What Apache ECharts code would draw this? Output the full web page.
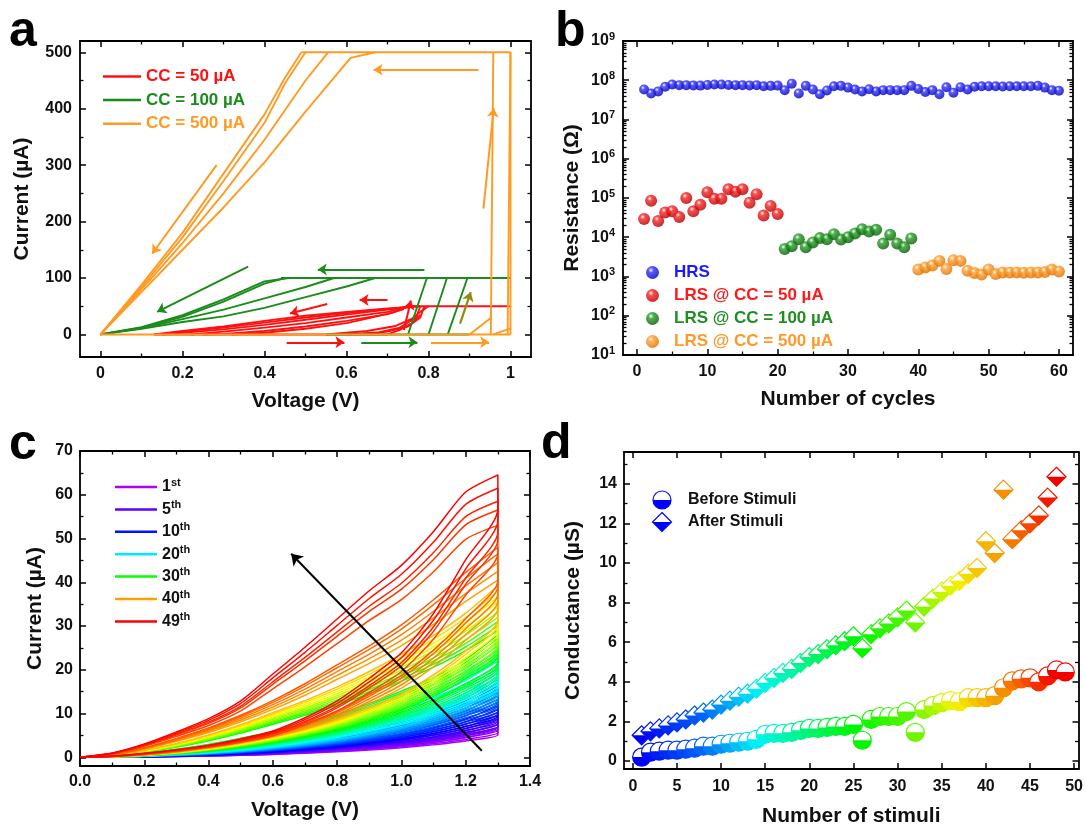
<!DOCTYPE html>
<html>
<head>
<meta charset="utf-8">
<script src="https://cdn.jsdelivr.net/npm/echarts@6/dist/echarts.min.js"></script>
<style>
  html, body { margin: 0; background: #fff; }
  #chart { width: 1086px; height: 828px; }
</style>
</head>
<body>
<div id="chart"></div>
<script>
// ---------- panel a : I-V sweeps, [voltage V, current uA] ----------
const cc50Curves = [
  [[0.13, 0], [0.7, 0]],
  [[0.76, 50], [1, 50]],
  [[0.78, 50], [0.7, 46], [0.6, 40], [0.5, 33], [0.4, 24], [0.3, 14], [0.2, 6], [0.13, 0]],
  [[0.77, 50], [0.7, 45], [0.6, 38], [0.5, 30], [0.4, 21], [0.3, 12], [0.2, 5], [0.14, 0]],
  [[0.76, 50], [0.7, 44], [0.6, 35], [0.5, 26], [0.4, 17], [0.3, 9], [0.2, 3], [0.15, 0]],
  [[0.75, 48], [0.7, 40], [0.6, 30], [0.5, 20], [0.4, 12], [0.3, 5], [0.22, 0]],
  [[0.74, 45], [0.7, 36], [0.6, 24], [0.5, 14], [0.4, 6], [0.3, 1], [0.25, 0]],
  [[0.72, 40], [0.65, 28], [0.6, 20], [0.5, 10], [0.4, 3], [0.32, 0]],
  [[0.55, 0], [0.65, 6], [0.72, 15], [0.76, 28], [0.78, 40], [0.8, 50]],
  [[0.6, 0], [0.68, 4], [0.73, 12], [0.77, 30], [0.78, 50]],
  [[0.65, 0], [0.7, 5], [0.75, 14], [0.78, 30], [0.79, 50]],
  [[0.7, 0], [0.73, 8], [0.76, 20], [0.78, 35]]
];
const cc100Curves = [
  [[0.55, 0], [0.9, 0]],
  [[0.75, 0], [0.796, 100]],
  [[0.8, 0], [0.845, 100]],
  [[0.847, 0], [0.895, 100]],
  [[0.44, 100], [1, 100]],
  [[0.46, 100], [0.4, 94], [0.3, 62], [0.2, 34], [0.1, 13], [0, 0]],
  [[0.45, 100], [0.4, 90], [0.3, 58], [0.2, 31], [0.1, 12], [0, 0]],
  [[0.57, 100], [0.5, 84], [0.4, 64], [0.3, 44], [0.2, 27], [0.1, 11], [0, 0]],
  [[0.67, 100], [0.6, 85], [0.5, 66], [0.4, 47], [0.3, 32], [0.2, 22], [0.1, 10], [0, 0]]
];
const cc500Curves = [
  [[0, 0], [1, 0]],
  [[0.952, 0], [0.958, 500]],
  [[0.993, 0], [1, 500]],
  [[1, 0], [1, 500]],
  [[0.49, 500], [1, 500]],
  [[0.9, 0], [0.945, 25], [0.952, 30]],
  [[0.958, 0], [0.99, 8], [1, 10]],
  [[0.49, 500], [0.45, 455], [0.4, 390], [0.3, 285], [0.2, 180], [0.1, 88], [0, 0]],
  [[0.5, 500], [0.45, 445], [0.4, 375], [0.3, 272], [0.2, 172], [0.1, 84], [0, 0]],
  [[0.555, 500], [0.5, 450], [0.4, 345], [0.3, 250], [0.2, 162], [0.1, 80], [0, 0]],
  [[0.67, 500], [0.61, 490], [0.5, 395], [0.4, 305], [0.3, 225], [0.2, 150], [0.1, 75], [0, 0]]
];
// arrows: [x1, y1, x2, y2]
const arrowsRed = [[0.454, -14, 0.595, -14], [0.553, 54, 0.462, 37], [0.70, 61, 0.632, 61], [0.74, 8, 0.757, 60]];
const arrowsGreen = [[0.636, -14, 0.773, -14], [0.79, 115, 0.53, 115], [0.36, 120, 0.138, 40]];
const arrowsOrange = [[0.806, -14, 0.948, -14], [0.922, 469, 0.666, 469], [0.283, 300, 0.126, 143], [0.934, 223, 0.959, 401]];
const arrowsOlive = [[0.877, 19, 0.903, 75]];

// ---------- panel b : resistance vs cycle ----------
const hrsCycles = Array.from({ length: 60 }, (_, i) => i + 1);
const hrsOhm = [5.8e7, 4.6e7, 5.2e7, 6.8e7, 7.8e7, 7.5e7, 7.5e7, 7.4e7, 7.3e7, 7.6e7,
  7.8e7, 7.8e7, 7.6e7, 7.5e7, 7.5e7, 7.4e7, 7.5e7, 7.0e7, 7.2e7, 7.3e7,
  5.6e7, 8.2e7, 4.6e7, 7.2e7, 5.8e7, 4.4e7, 5.5e7, 7.0e7, 7.2e7, 6.5e7,
  5.8e7, 5.2e7, 5.9e7, 5.2e7, 5.6e7, 5.6e7, 5.6e7, 5.6e7, 7.2e7, 6.0e7,
  5.0e7, 5.6e7, 4.4e7, 6.6e7, 4.8e7, 6.6e7, 5.8e7, 6.8e7, 7.0e7, 7.0e7,
  7.0e7, 6.9e7, 7.0e7, 7.0e7, 7.0e7, 7.0e7, 7.2e7, 6.5e7, 5.6e7, 5.4e7];
const lrs50Cycles = hrsCycles.slice(0, 20);
const lrs50Ohm = [2.9e4, 8.5e4, 2.6e4, 4.3e4, 4.6e4, 3.3e4, 1.0e5, 4.6e4, 6.7e4, 1.4e5,
  9.6e4, 9.6e4, 1.66e5, 1.45e5, 1.66e5, 7.6e4, 1.25e5, 3.6e4, 6.3e4, 3.9e4];
const lrs100Cycles = hrsCycles.slice(20, 39);
const lrs100Ohm = [5.0e3, 5.9e3, 8.9e3, 5.6e3, 7.4e3, 9.5e3, 8.9e3, 1.2e4, 8.7e3, 1.0e4,
  1.25e4, 1.6e4, 1.4e4, 1.55e4, 6.9e3, 1.15e4, 6.9e3, 5.6e3, 9.3e3];
const lrs500Cycles = hrsCycles.slice(39, 60);
const lrs500Ohm = [1.5e3, 1.7e3, 1.9e3, 2.5e3, 1.55e3, 2.6e3, 2.5e3, 1.4e3, 1.23e3, 1.12e3,
  1.5e3, 1.15e3, 1.27e3, 1.27e3, 1.27e3, 1.25e3, 1.27e3, 1.27e3, 1.3e3, 1.5e3, 1.35e3];

// ---------- panel c : repeated I-V loops ----------
const loopVoltage = [0, 0.1, 0.2, 0.3, 0.4, 0.5, 0.6, 0.7, 0.8, 0.9, 1.0, 1.1, 1.2, 1.3];
const legendCycles = [1, 5, 10, 20, 30, 40, 49];
const legendNames = ['1st', '5th', '10th', '20th', '30th', '40th', '49th'];
// return sweep, fraction of the loop peak, one row per legend cycle
const upperShapes = [
  [0, 0.004, 0.015, 0.035, 0.06, 0.095, 0.14, 0.2, 0.27, 0.35, 0.44, 0.56, 0.73, 1],
  [0, 0.005, 0.018, 0.04, 0.068, 0.105, 0.15, 0.21, 0.28, 0.36, 0.45, 0.57, 0.74, 1],
  [0, 0.007, 0.025, 0.05, 0.085, 0.13, 0.18, 0.24, 0.31, 0.39, 0.49, 0.6, 0.76, 1],
  [0, 0.01, 0.033, 0.065, 0.105, 0.155, 0.21, 0.275, 0.35, 0.44, 0.54, 0.65, 0.8, 1],
  [0, 0.012, 0.04, 0.08, 0.13, 0.19, 0.26, 0.33, 0.41, 0.5, 0.6, 0.71, 0.84, 1],
  [0, 0.014, 0.045, 0.09, 0.14, 0.2, 0.27, 0.35, 0.44, 0.53, 0.63, 0.75, 0.88, 1],
  [0, 0.015, 0.047, 0.09, 0.137, 0.2, 0.295, 0.39, 0.49, 0.59, 0.68, 0.8, 0.94, 1]
];
// forward sweep, fraction of the loop peak
const lowerShapes = [
  [0, 0.003, 0.01, 0.025, 0.045, 0.07, 0.105, 0.15, 0.2, 0.27, 0.35, 0.46, 0.6, 0.82],
  [0, 0.003, 0.011, 0.026, 0.047, 0.073, 0.108, 0.153, 0.205, 0.275, 0.355, 0.46, 0.6, 0.8],
  [0, 0.004, 0.013, 0.03, 0.05, 0.078, 0.115, 0.16, 0.215, 0.285, 0.365, 0.47, 0.61, 0.8],
  [0, 0.004, 0.014, 0.031, 0.053, 0.082, 0.12, 0.165, 0.22, 0.29, 0.37, 0.47, 0.6, 0.78],
  [0, 0.004, 0.014, 0.031, 0.054, 0.083, 0.12, 0.165, 0.22, 0.29, 0.37, 0.48, 0.62, 0.8],
  [0, 0.004, 0.014, 0.03, 0.052, 0.08, 0.115, 0.16, 0.22, 0.3, 0.39, 0.51, 0.66, 0.84],
  [0, 0.004, 0.014, 0.027, 0.043, 0.065, 0.093, 0.14, 0.2, 0.28, 0.37, 0.51, 0.7, 0.88]
];
// current at 1.3 V for cycles 1..49 (uA)
const loopPeak = [6.2, 6.8, 7.5, 8.2, 8.8, 9.5, 10.2, 11.0, 11.8, 12.5,
  13.2, 14.0, 14.8, 15.6, 16.3, 17.0, 17.8, 18.5, 19.3, 20.2,
  21.0, 22.0, 22.8, 23.7, 24.5, 25.5, 26.3, 27.2, 28.0, 29.0,
  30.0, 31.0, 32.0, 33.2, 34.3, 35.5, 36.7, 38.0, 39.2, 40.5,
  42.5, 44.5, 46.5, 48.0, 53.0, 56.5, 58.5, 61.5, 64.5];
const trendArrow = [1.25, 1.5, 0.657, 46.5];

// ---------- panel d : conductance vs stimuli (uS) ----------
const beforeStimuli = [0.2, 0.45, 0.5, 0.55, 0.55, 0.6, 0.65, 0.75, 0.75, 0.85,
  0.9, 0.95, 1.0, 1.1, 1.35, 1.4, 1.4, 1.45, 1.55, 1.65,
  1.65, 1.7, 1.75, 1.75, 1.85, 1.05, 2.1, 2.25, 2.25, 2.25,
  2.5, 1.45, 2.6, 2.8, 2.95, 3.05, 3.0, 3.2, 3.2, 3.2,
  3.3, 3.7, 4.05, 4.15, 4.2, 4.0, 4.3, 4.6, 4.5];
const afterStimuli = [1.3, 1.5, 1.65, 1.8, 1.95, 2.1, 2.3, 2.45, 2.6, 2.85,
  3.05, 3.25, 3.4, 3.65, 3.95, 4.2, 4.45, 4.65, 4.95, 5.25,
  5.4, 5.65, 5.85, 6.05, 6.3, 5.7, 6.4, 6.7, 6.95, 7.25,
  7.6, 7.0, 7.8, 8.2, 8.55, 8.85, 9.1, 9.45, 9.75, 11.1,
  10.5, 13.7, 11.2, 11.65, 12.0, 12.4, 13.3, 14.35];

// ---------- helpers ----------
const FONT = '"Liberation Sans", Arial, Helvetica, sans-serif';
const RED = '#ff1010', GREEN = '#1a8c1a', ORANGE = '#ff9a22';

function hueColor(x, stops, hues, light) {
  let i = 0;
  while (i < stops.length - 2 && x > stops[i + 1]) i++;
  const t = Math.max(0, Math.min(1, (x - stops[i]) / (stops[i + 1] - stops[i])));
  const h = hues[i] + t * (hues[i + 1] - hues[i]);
  return 'hsl(' + h.toFixed(1) + ',100%,' + light + '%)';
}
const loopColor = c => hueColor(c, [1, 5, 10, 20, 30, 37, 40, 45, 49], [282, 262, 235, 185, 118, 58, 38, 16, 0], 50);
const stimColor = s => hueColor(s, [1, 8, 14, 25, 31, 37, 42, 48], [240, 215, 182, 122, 100, 58, 35, 0], 48);

const supRich = {
  b: { fontSize: 16, fontWeight: 'bold', color: '#111', fontFamily: FONT },
  s: { fontSize: 11, fontWeight: 'bold', color: '#111', fontFamily: FONT, padding: [0, 0, 9, 0] }
};

const xAxes = [], yAxes = [];
function buildAxes(list, grid, dim, o) {
  const sides = dim === 'x' ? ['bottom', 'top'] : ['left', 'right'];
  const first = list.length;
  const line = { color: '#000', width: 1.8 };
  sides.forEach((pos, k) => {
    list.push({
      gridIndex: grid, type: o.type || 'value', logBase: 10, position: pos,
      min: o.min, max: o.max, splitNumber: o.split || 5,
      name: k === 0 ? o.name : '', nameLocation: 'middle', nameGap: o.nameGap,
      nameTextStyle: { fontSize: 21, fontWeight: 'bold', color: '#111', fontFamily: FONT },
      axisLine: { show: true, onZero: false, lineStyle: line },
      axisTick: { show: true, inside: true, length: 6, customValues: o.major, lineStyle: { color: '#000', width: 1.5 } },
      axisLabel: {
        show: k === 0, customValues: o.major, formatter: o.fmt, margin: o.margin,
        fontSize: 16, fontWeight: 'bold', color: '#111', fontFamily: FONT, rich: supRich
      },
      splitLine: { show: false }, minorTick: { show: false }
    });
    if (o.minor) {
      list.push({
        gridIndex: grid, type: o.type || 'value', logBase: 10, position: pos,
        min: o.min, max: o.max,
        axisLine: { show: false, onZero: false },
        axisTick: { show: true, inside: true, length: 3.5, customValues: o.minor, lineStyle: { color: '#000', width: 1.3 } },
        axisLabel: { show: false }, splitLine: { show: false }
      });
    }
  });
  return first;
}

const fmtA = v => (v === 0 || v === 1) ? String(v) : v.toFixed(1);
const ax = buildAxes(xAxes, 0, 'x', { min: -0.05, max: 1.05, major: [0, 0.2, 0.4, 0.6, 0.8, 1], minor: [0.1, 0.3, 0.5, 0.7, 0.9], fmt: fmtA, margin: 9, name: 'Voltage (V)', nameGap: 34 });
const ay = buildAxes(yAxes, 0, 'y', { min: -40, max: 520, major: [0, 100, 200, 300, 400, 500], minor: [50, 150, 250, 350, 450], margin: 8, name: 'Current (\u00b5A)', nameGap: 47 });
const bx = buildAxes(xAxes, 1, 'x', { min: -2, max: 62, major: [0, 10, 20, 30, 40, 50, 60], minor: [5, 15, 25, 35, 45, 55], margin: 9, name: 'Number of cycles', nameGap: 34 });
const logMinor = [];
[1, 2, 3, 4, 5, 6, 7, 8].forEach(e => [2, 3, 4, 5, 6, 7, 8, 9].forEach(m => logMinor.push(m * Math.pow(10, e))));
const by = buildAxes(yAxes, 1, 'y', { type: 'log', min: 10, max: 1e9, split: 8, major: [1e1, 1e2, 1e3, 1e4, 1e5, 1e6, 1e7, 1e8, 1e9], minor: logMinor, fmt: v => '{b|10}{s|' + Math.round(Math.log10(v)) + '}', margin: 8, name: 'Resistance (\u03a9)', nameGap: 40 });
const cx = buildAxes(xAxes, 2, 'x', { min: 0, max: 1.4, major: [0, 0.2, 0.4, 0.6, 0.8, 1.0, 1.2, 1.4], minor: [0.1, 0.3, 0.5, 0.7, 0.9, 1.1, 1.3], fmt: v => v.toFixed(1), margin: 8, name: 'Voltage (V)', nameGap: 34 });
const cy = buildAxes(yAxes, 2, 'y', { min: -2, max: 70, major: [0, 10, 20, 30, 40, 50, 60, 70], minor: [5, 15, 25, 35, 45, 55, 65], margin: 7, name: 'Current (\u00b5A)', nameGap: 34 });
const dx = buildAxes(xAxes, 3, 'x', { min: -1, max: 50.5, major: [0, 5, 10, 15, 20, 25, 30, 35, 40, 45, 50], margin: 10, name: 'Number of stimuli', nameGap: 37 });
const dy = buildAxes(yAxes, 3, 'y', { min: -0.4, max: 15.6, major: [0, 2, 4, 6, 8, 10, 12, 14], minor: [1, 3, 5, 7, 9, 11, 13, 15], margin: 7, name: 'Conductance (\u00b5S)', nameGap: 40 });

function curveSeries(curves, name, color, xi, yi) {
  return curves.map(c => ({
    type: 'line', name, xAxisIndex: xi, yAxisIndex: yi, data: c,
    symbol: 'none', showSymbol: false, silent: true,
    lineStyle: { color, width: 1.9 }, itemStyle: { color }
  }));
}
function arrowSeries(list, color, xi, yi, width, size) {
  return {
    type: 'lines', coordinateSystem: 'cartesian2d', xAxisIndex: xi, yAxisIndex: yi,
    symbol: ['none', 'arrow'], symbolSize: size, silent: true, z: 5,
    lineStyle: { color, width, opacity: 1, curveness: 0 },
    data: list.map(a => ({ coords: [[a[0], a[1]], [a[2], a[3]]] }))
  };
}
function ball(c, dark) {
  return new echarts.graphic.RadialGradient(0.38, 0.32, 0.66, [
    { offset: 0, color: '#ffffff' }, { offset: 0.3, color: c }, { offset: 1, color: dark }
  ]);
}
function scatterB(name, xs, ys, c, dark, size) {
  return {
    type: 'scatter', name, xAxisIndex: bx, yAxisIndex: by, symbol: 'circle', symbolSize: size,
    itemStyle: { color: ball(c, dark) }, data: xs.map((x, i) => [x, ys[i]])
  };
}

const series = [];
series.push(...curveSeries(cc50Curves, 'CC = 50 \u00b5A', RED, ax, ay));
series.push(...curveSeries(cc100Curves, 'CC = 100 \u00b5A', GREEN, ax, ay));
series.push(...curveSeries(cc500Curves, 'CC = 500 \u00b5A', ORANGE, ax, ay));
series.push(arrowSeries(arrowsRed, RED, ax, ay, 2, 9));
series.push(arrowSeries(arrowsGreen, GREEN, ax, ay, 2, 9));
series.push(arrowSeries(arrowsOrange, ORANGE, ax, ay, 2, 9));
series.push(arrowSeries(arrowsOlive, '#8c8c10', ax, ay, 2.2, 9));

series.push(scatterB('HRS', hrsCycles, hrsOhm, '#3030ff', '#0000b8', 10));
series.push(scatterB('LRS @ CC = 50 \u00b5A', lrs50Cycles, lrs50Ohm, '#ff2020', '#b00000', 12));
series.push(scatterB('LRS @ CC = 100 \u00b5A', lrs100Cycles, lrs100Ohm, '#22a022', '#0a5a0a', 12));
series.push(scatterB('LRS @ CC = 500 \u00b5A', lrs500Cycles, lrs500Ohm, '#ffa030', '#e07000', 12));

loopPeak.forEach((peak, i) => {
  const cycle = i + 1;
  let g = 0;
  while (g < legendCycles.length - 1 && cycle >= legendCycles[g + 1] - (g >= 5 ? 4 : 0)) g++;
  const fwd = loopVoltage.map((v, k) => [v, lowerShapes[g][k] * peak]);
  const back = loopVoltage.map((v, k) => [v, upperShapes[g][k] * peak]).reverse();
  const li = legendCycles.indexOf(cycle);
  const color = loopColor(cycle);
  series.push({
    type: 'line', name: li >= 0 ? legendNames[li] : 'cycle ' + cycle,
    xAxisIndex: cx, yAxisIndex: cy, data: fwd.concat(back),
    symbol: 'none', showSymbol: false, silent: true, smooth: 0.25,
    lineStyle: { color, width: 1.5 }, itemStyle: { color }
  });
});
series.push(arrowSeries([trendArrow], '#000', cx, cy, 2, 11));

series.push({
  type: 'custom', name: 'before', xAxisIndex: dx, yAxisIndex: dy, silent: true,
  data: beforeStimuli.map((v, i) => [i + 1, v]),
  renderItem: (params, api) => {
    const p = api.coord([api.value(0), api.value(1)]);
    const c = stimColor(api.value(0));
    const r = 9;
    return { type: 'group', children: [
      { type: 'circle', shape: { cx: p[0], cy: p[1], r }, style: { fill: '#fff', stroke: c, lineWidth: 1.2 } },
      { type: 'sector', shape: { cx: p[0], cy: p[1], r0: 0, r, startAngle: 0, endAngle: Math.PI, clockwise: true }, style: { fill: c } }
    ] };
  }
});
series.push({
  type: 'custom', name: 'after', xAxisIndex: dx, yAxisIndex: dy, silent: true,
  data: afterStimuli.map((v, i) => [i + 1, v]),
  renderItem: (params, api) => {
    const p = api.coord([api.value(0), api.value(1)]);
    const c = stimColor(api.value(0));
    const w = 9.5, x = p[0], y = p[1];
    return { type: 'group', children: [
      { type: 'polygon', shape: { points: [[x, y - w], [x + w, y], [x, y + w], [x - w, y]] }, style: { fill: '#fff', stroke: c, lineWidth: 1.2 } },
      { type: 'polygon', shape: { points: [[x - w, y], [x + w, y], [x, y + w]] }, style: { fill: c } }
    ] };
  }
});

const legendTxt = { fontSize: 17, fontWeight: 'bold', fontFamily: FONT };
const option = {
  animation: false,
  textStyle: { fontFamily: FONT },
  grid: [
    { left: 80, top: 41, width: 451, height: 316 },
    { left: 623, top: 41, width: 450, height: 314 },
    { left: 80, top: 451, width: 450, height: 315 },
    { left: 624, top: 452, width: 458, height: 320 }
  ],
  xAxis: xAxes,
  yAxis: yAxes,
  legend: [
    {
      left: 98, top: 63, orient: 'vertical', icon: 'rect', itemWidth: 38, itemHeight: 2.5, itemGap: 6.6,
      textStyle: Object.assign({ lineHeight: 16 }, legendTxt),
      data: [
        { name: 'CC = 50 \u00b5A', textStyle: { color: RED } },
        { name: 'CC = 100 \u00b5A', textStyle: { color: GREEN } },
        { name: 'CC = 500 \u00b5A', textStyle: { color: ORANGE } }
      ]
    },
    {
      left: 641, top: 259, orient: 'vertical', icon: 'circle', itemWidth: 13, itemHeight: 13, itemGap: 6,
      textStyle: Object.assign({ lineHeight: 16, padding: [0, 0, 0, 10] }, legendTxt),
      data: [
        { name: 'HRS', textStyle: { color: '#1a1aff' } },
        { name: 'LRS @ CC = 50 \u00b5A', textStyle: { color: '#ff1a1a' } },
        { name: 'LRS @ CC = 100 \u00b5A', textStyle: { color: '#1f8f1f' } },
        { name: 'LRS @ CC = 500 \u00b5A', textStyle: { color: '#ff9a2a' } }
      ]
    },
    {
      left: 110, top: 472, orient: 'vertical', icon: 'rect', itemWidth: 42, itemHeight: 2.5, itemGap: 4.4,
      formatter: name => {
        const m = name.match(/^(\d+)(\D+)$/);
        return '{n|' + m[1] + '}{s|' + m[2] + '}';
      },
      textStyle: { rich: {
        n: { fontSize: 16, fontWeight: 'bold', color: '#111', fontFamily: FONT },
        s: { fontSize: 11, fontWeight: 'bold', color: '#111', fontFamily: FONT, padding: [0, 0, 9, 0] }
      } },
      data: legendNames
    }
  ],
  graphic: [
    { type: 'text', x: 9, y: 32, style: { text: 'a', fontSize: 50, fontWeight: 'bold', fontFamily: FONT, fill: '#000', verticalAlign: 'middle' } },
    { type: 'text', x: 555, y: 32, style: { text: 'b', fontSize: 50, fontWeight: 'bold', fontFamily: FONT, fill: '#000', verticalAlign: 'middle' } },
    { type: 'text', x: 9, y: 445, style: { text: 'c', fontSize: 50, fontWeight: 'bold', fontFamily: FONT, fill: '#000', verticalAlign: 'middle' } },
    { type: 'text', x: 541, y: 444, style: { text: 'd', fontSize: 50, fontWeight: 'bold', fontFamily: FONT, fill: '#000', verticalAlign: 'middle' } },
    { type: 'circle', shape: { cx: 662, cy: 500, r: 9 }, style: { fill: '#fff', stroke: '#0000ff', lineWidth: 1.2 } },
    { type: 'sector', shape: { cx: 662, cy: 500, r0: 0, r: 9, startAngle: 0, endAngle: Math.PI, clockwise: true }, style: { fill: '#0000ff' } },
    { type: 'polygon', shape: { points: [[662, 512.5], [671.5, 522], [662, 531.5], [652.5, 522]] }, style: { fill: '#fff', stroke: '#0000ff', lineWidth: 1.2 } },
    { type: 'polygon', shape: { points: [[652.5, 522], [671.5, 522], [662, 531.5]] }, style: { fill: '#0000ff' } },
    { type: 'text', x: 688, y: 500, style: { text: 'Before Stimuli', fontSize: 16, fontWeight: 'bold', fontFamily: FONT, fill: '#111', verticalAlign: 'middle' } },
    { type: 'text', x: 688, y: 522, style: { text: 'After Stimuli', fontSize: 16, fontWeight: 'bold', fontFamily: FONT, fill: '#111', verticalAlign: 'middle' } }
  ],
  series
};

const chart = echarts.init(document.getElementById('chart'));
chart.setOption(option);
</script>
</body>
</html>
